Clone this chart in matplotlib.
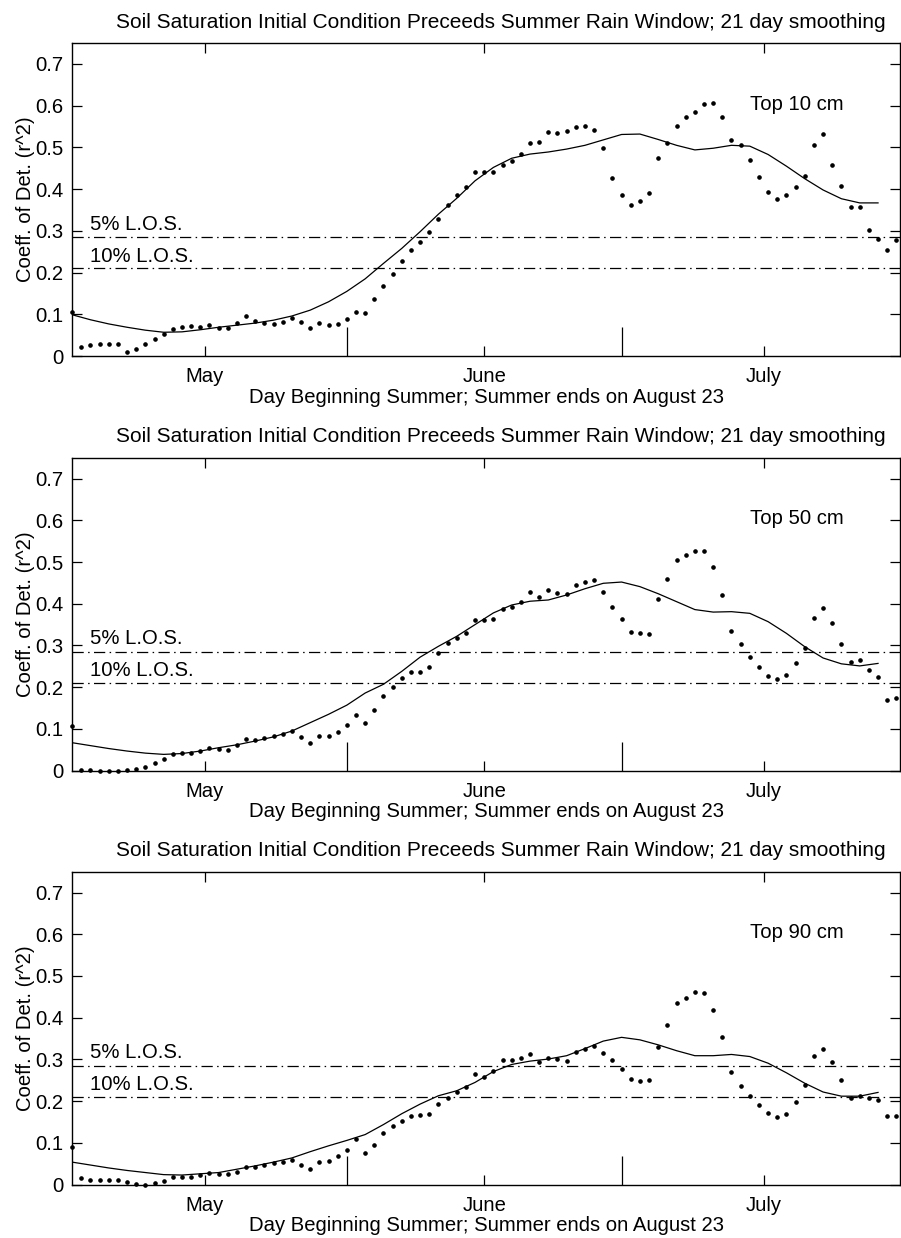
import numpy as np
import matplotlib
matplotlib.use("Agg")
import matplotlib.pyplot as plt

plt.rcParams["font.family"] = ["Liberation Sans", "DejaVu Sans"]

# day index 0..90, one r^2 value per day
days = np.arange(91)

top10 = [0.105, 0.022, 0.026, 0.028, 0.028, 0.030, 0.009, 0.016, 0.028, 0.042,
         0.054, 0.066, 0.069, 0.071, 0.070, 0.074, 0.067, 0.068, 0.079, 0.095,
         0.085, 0.080, 0.077, 0.082, 0.091, 0.081, 0.068, 0.079, 0.075, 0.078,
         0.088, 0.106, 0.102, 0.137, 0.168, 0.197, 0.228, 0.255, 0.273, 0.297,
         0.329, 0.361, 0.385, 0.406, 0.442, 0.442, 0.440, 0.458, 0.468, 0.485,
         0.510, 0.513, 0.536, 0.534, 0.539, 0.549, 0.551, 0.541, 0.499, 0.426,
         0.387, 0.361, 0.372, 0.390, 0.475, 0.510, 0.552, 0.574, 0.584, 0.605,
         0.607, 0.574, 0.518, 0.505, 0.470, 0.430, 0.393, 0.377, 0.385, 0.405,
         0.431, 0.506, 0.531, 0.458, 0.408, 0.357, 0.357, 0.303, 0.281, 0.255,
         0.279]

top50 = [0.107, 0.002, 0.001, 0.000, 0.000, 0.000, 0.001, 0.003, 0.008, 0.018,
         0.028, 0.041, 0.043, 0.043, 0.048, 0.054, 0.052, 0.050, 0.062, 0.076,
         0.073, 0.078, 0.082, 0.087, 0.094, 0.080, 0.067, 0.083, 0.083, 0.092,
         0.110, 0.134, 0.114, 0.145, 0.179, 0.201, 0.221, 0.236, 0.237, 0.249,
         0.281, 0.305, 0.319, 0.329, 0.362, 0.360, 0.364, 0.387, 0.393, 0.403,
         0.429, 0.416, 0.432, 0.425, 0.424, 0.445, 0.453, 0.456, 0.429, 0.393,
         0.363, 0.333, 0.329, 0.327, 0.412, 0.459, 0.505, 0.517, 0.527, 0.527,
         0.489, 0.420, 0.335, 0.303, 0.273, 0.249, 0.226, 0.219, 0.229, 0.259,
         0.295, 0.367, 0.390, 0.355, 0.304, 0.261, 0.265, 0.241, 0.225, 0.169,
         0.173]

top90 = [0.090, 0.015, 0.011, 0.010, 0.010, 0.010, 0.006, 0.002, 0.000, 0.005,
         0.009, 0.018, 0.018, 0.018, 0.022, 0.027, 0.025, 0.025, 0.031, 0.043,
         0.043, 0.046, 0.052, 0.054, 0.058, 0.046, 0.037, 0.054, 0.057, 0.068,
         0.083, 0.110, 0.075, 0.096, 0.123, 0.140, 0.153, 0.165, 0.166, 0.169,
         0.193, 0.207, 0.221, 0.233, 0.265, 0.259, 0.273, 0.299, 0.299, 0.303,
         0.313, 0.293, 0.304, 0.301, 0.297, 0.319, 0.326, 0.333, 0.315, 0.299,
         0.277, 0.253, 0.249, 0.251, 0.329, 0.383, 0.435, 0.447, 0.462, 0.459,
         0.419, 0.353, 0.271, 0.237, 0.213, 0.190, 0.171, 0.161, 0.169, 0.197,
         0.239, 0.308, 0.325, 0.295, 0.250, 0.208, 0.213, 0.208, 0.203, 0.165,
         0.165]

# 21 day smoothed curves, sampled every second day
smooth_days = np.arange(0, 89, 2)

smooth10 = [0.099, 0.087, 0.077, 0.069, 0.062, 0.057, 0.058, 0.063, 0.069, 0.074,
            0.079, 0.086, 0.096, 0.110, 0.130, 0.155, 0.185, 0.222, 0.258, 0.298,
            0.340, 0.378, 0.420, 0.452, 0.474, 0.484, 0.489, 0.496, 0.505, 0.518,
            0.531, 0.532, 0.519, 0.505, 0.494, 0.498, 0.505, 0.503, 0.483, 0.455,
            0.425, 0.398, 0.377, 0.367, 0.367]

smooth50 = [0.067, 0.060, 0.053, 0.047, 0.042, 0.039, 0.041, 0.047, 0.055, 0.062,
            0.071, 0.081, 0.095, 0.115, 0.135, 0.157, 0.186, 0.207, 0.238, 0.272,
            0.298, 0.322, 0.350, 0.378, 0.397, 0.406, 0.409, 0.421, 0.436, 0.449,
            0.452, 0.441, 0.424, 0.405, 0.386, 0.380, 0.381, 0.377, 0.357, 0.329,
            0.297, 0.270, 0.256, 0.251, 0.257]

smooth90 = [0.054, 0.047, 0.040, 0.034, 0.029, 0.024, 0.023, 0.026, 0.029, 0.037,
            0.045, 0.054, 0.064, 0.079, 0.093, 0.106, 0.120, 0.144, 0.170, 0.193,
            0.213, 0.225, 0.245, 0.271, 0.288, 0.296, 0.301, 0.309, 0.326, 0.344,
            0.353, 0.347, 0.335, 0.321, 0.309, 0.309, 0.312, 0.307, 0.291, 0.268,
            0.243, 0.222, 0.212, 0.212, 0.221]

depth_labels = ["Top 10 cm", "Top 50 cm", "Top 90 cm"]

# significance levels
los_values = [0.285, 0.21]
los_labels = ["5% L.O.S.", "10% L.O.S."]

month_pos = [14.5, 45.0, 75.5]
month_labels = ["May", "June", "July"]
mid_month_pos = [30.0, 60.0]

title = "Soil Saturation Initial Condition Preceeds Summer Rain Window; 21 day smoothing"
xlab = "Day Beginning Summer; Summer ends on August 23"
ylab = "Coeff. of Det. (r^2)"

fs = 14.6

fig = plt.figure(figsize=(9.01, 12.38), dpi=100)
bottoms = [0.7124, 0.3775, 0.0431]
series = [(top10, smooth10), (top50, smooth50), (top90, smooth90)]

for k, (dots, smooth) in enumerate(series):
    ax = fig.add_axes([0.0800, bottoms[k], 0.9189, 0.2528])
    ax.plot(days, dots, linestyle="none", marker="o", ms=2.3, color="black",
            clip_on=False, zorder=3)
    ax.plot(smooth_days, smooth, color="black", lw=0.9)
    for v in los_values:
        ax.axhline(v, color="black", lw=0.9, linestyle=(0, (9, 3.5, 1.2, 3.5)))
    ax.text(2, 0.316, los_labels[0], fontsize=fs, va="center", ha="left")
    ax.text(2, 0.239, los_labels[1], fontsize=fs, va="center", ha="left")
    ax.text(74, 0.604, depth_labels[k], fontsize=fs, va="center", ha="left")

    ax.set_xlim(0, 90.4)
    ax.set_ylim(0, 0.75)
    ax.set_yticks([0, 0.1, 0.2, 0.3, 0.4, 0.5, 0.6, 0.7])
    ax.set_yticklabels(["0", "0.1", "0.2", "0.3", "0.4", "0.5", "0.6", "0.7"])
    ax.set_xticks(month_pos)
    ax.set_xticklabels(month_labels)
    ax.set_xticks(mid_month_pos, minor=True)
    ax.tick_params(axis="both", which="major", direction="in", length=7,
                   width=0.9, labelsize=fs, top=True, right=True)
    ax.tick_params(axis="x", which="major", pad=8)
    ax.tick_params(axis="y", which="major", pad=6)
    ax.tick_params(axis="x", which="minor", direction="in", length=21,
                   width=0.9, top=False, bottom=True)
    for sp in ax.spines.values():
        sp.set_linewidth(1.0)
    ax.set_title(title, fontsize=15, pad=11, x=0.518)
    ax.set_xlabel(xlab, fontsize=fs, labelpad=1)
    ax.set_ylabel(ylab, fontsize=fs, labelpad=0)

fig.savefig("out.png", dpi=100)
